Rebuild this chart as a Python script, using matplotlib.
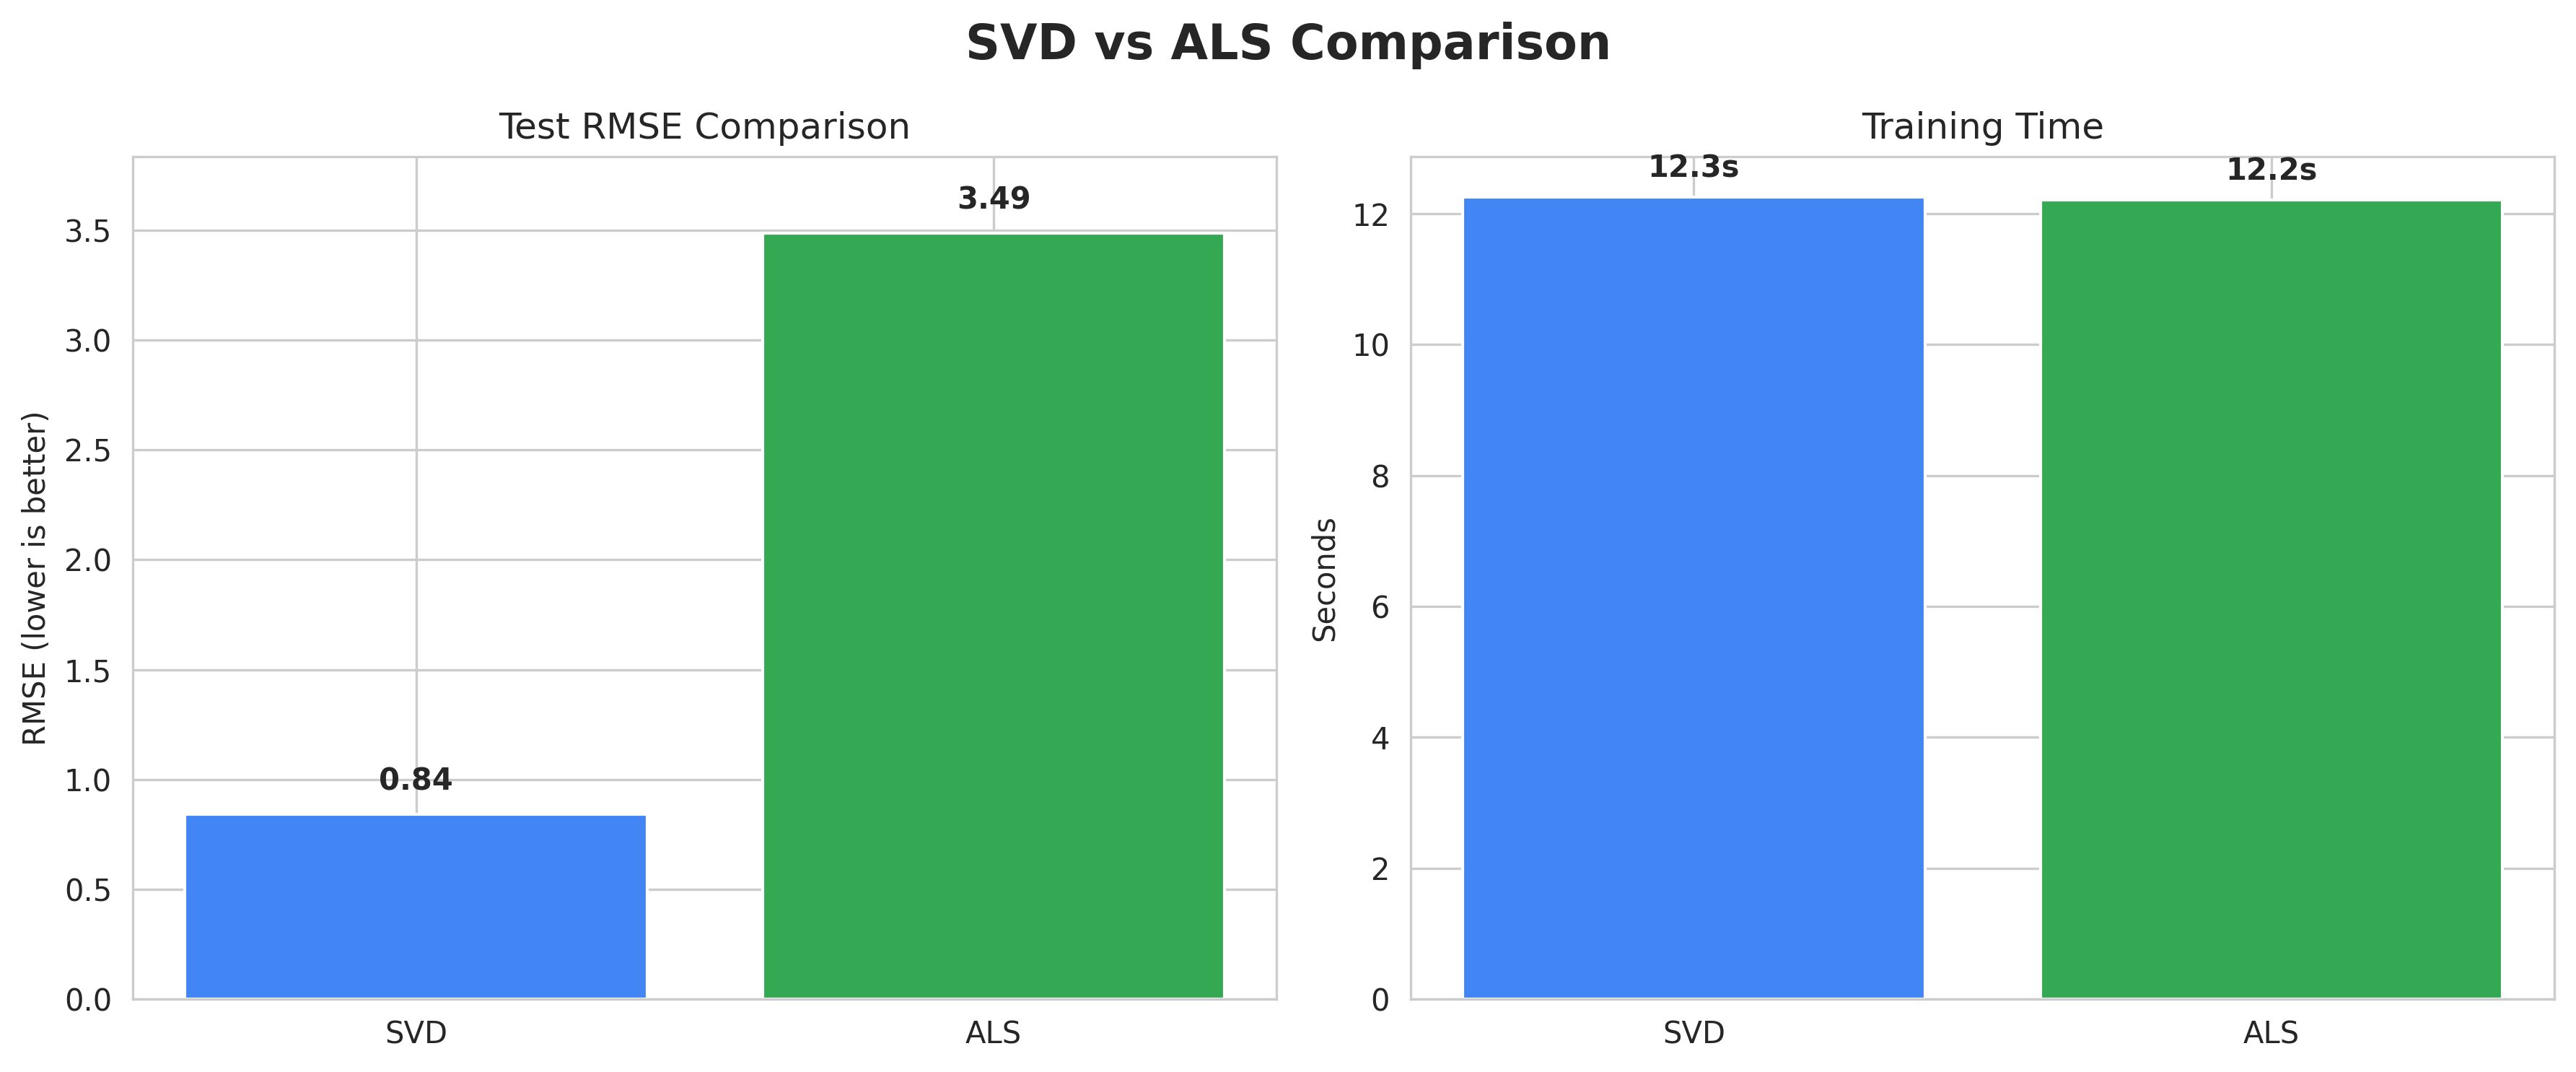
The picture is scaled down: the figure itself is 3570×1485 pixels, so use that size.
import matplotlib
matplotlib.use("Agg")
import matplotlib.pyplot as plt
import seaborn as sns

sns.set_style("whitegrid")

models = ["SVD", "ALS"]
rmse = [0.841, 3.487]
train_time = [12.26, 12.21]
colors = ["#4285F4", "#34A853"]

fig, (ax1, ax2) = plt.subplots(1, 2, figsize=(12, 5))

bars1 = ax1.bar(models, rmse, color=colors)
ax1.set_title("Test RMSE Comparison", fontsize=12)
ax1.set_ylabel("RMSE (lower is better)")
ax1.set_ylim(0, max(rmse) * 1.1)
for b, v in zip(bars1, rmse):
    ax1.text(b.get_x() + b.get_width() / 2, v + 0.08, f"{v:.2f}",
             ha="center", va="bottom", fontweight="bold", fontsize=10)

bars2 = ax2.bar(models, train_time, color=colors)
ax2.set_title("Training Time", fontsize=12)
ax2.set_ylabel("Seconds")
for b, v in zip(bars2, train_time):
    ax2.text(b.get_x() + b.get_width() / 2, v + 0.2, f"{v:.1f}s",
             ha="center", va="bottom", fontweight="bold", fontsize=10)

fig.suptitle("SVD vs ALS Comparison", fontsize=16, fontweight="bold")
plt.tight_layout()
plt.savefig("out.png", dpi=300, bbox_inches="tight")
